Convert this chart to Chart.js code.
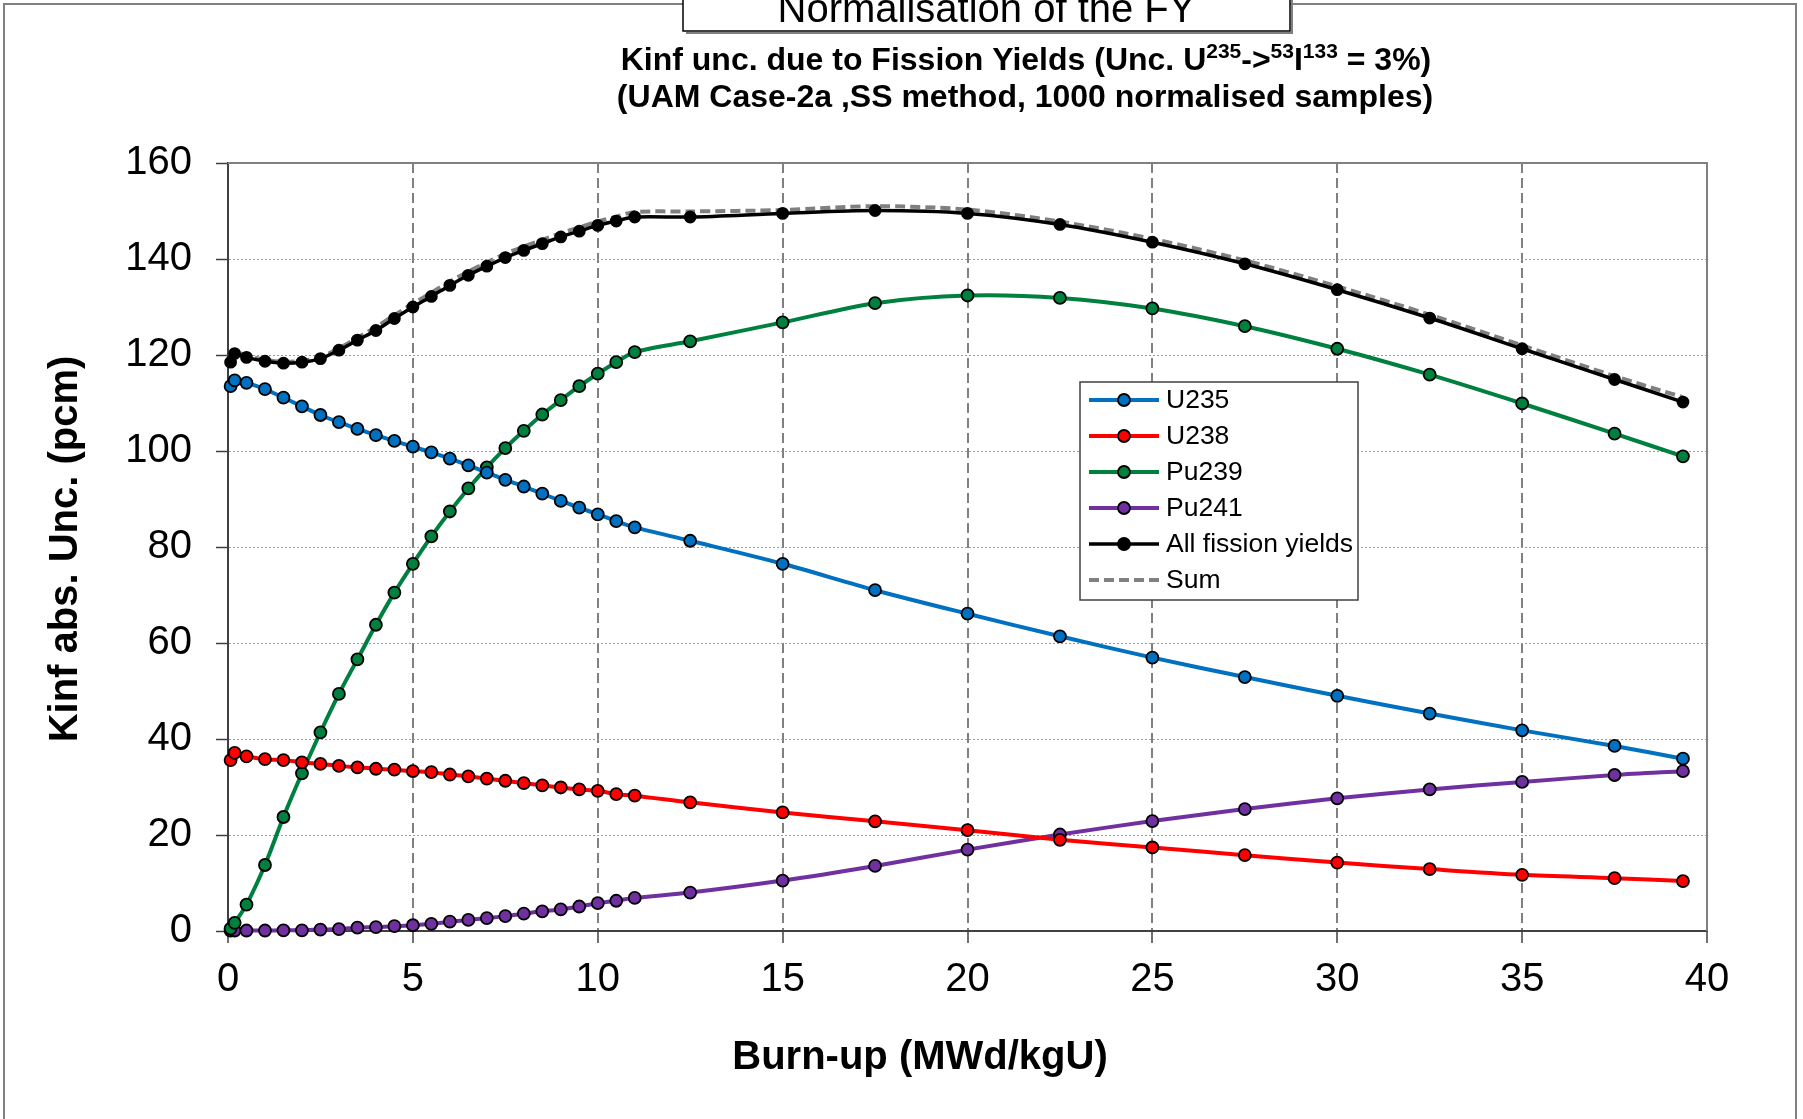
<!DOCTYPE html>
<html>
<head>
<meta charset="utf-8">
<script src="https://cdn.jsdelivr.net/npm/chart.js@4.4.1/dist/chart.umd.min.js"></script>
<style>
html,body{margin:0;padding:0;background:#fff;overflow:hidden}
#wrap{position:relative;width:1803px;height:1119px}
canvas{display:block}
</style>
</head>
<body>
<div id="wrap"><canvas id="c" width="1803" height="1119"></canvas></div>
<script>
// ---------- DATA ----------
const burnup = [0.07, 0.18, 0.5, 1, 1.5, 2, 2.5, 3, 3.5, 4, 4.5, 5, 5.5, 6, 6.5, 7, 7.5, 8, 8.5, 9, 9.5, 10, 10.5, 11,
                12.5, 15, 17.5, 20, 22.5, 25, 27.5, 30, 32.5, 35, 37.5, 39.35];
const u235 = [113.5, 114.7, 114.2, 112.9, 111.1, 109.3, 107.5, 106.0, 104.6, 103.3, 102.1, 100.9, 99.7, 98.4, 97.0, 95.5, 94.0, 92.6, 91.1, 89.6, 88.2, 86.8, 85.4, 84.1,
              81.3, 76.5, 71.0, 66.1, 61.4, 56.95, 52.9, 49.0, 45.3, 41.8, 38.55, 35.9];
const u238 = [35.6, 37.1, 36.4, 35.8, 35.6, 35.15, 34.8, 34.4, 34.1, 33.8, 33.6, 33.3, 33.1, 32.6, 32.2, 31.75, 31.3, 30.8, 30.35, 29.9, 29.5, 29.2, 28.5, 28.2,
              26.8, 24.7, 22.85, 21.0, 19.0, 17.4, 15.8, 14.25, 12.9, 11.7, 11.0, 10.4];
const pu239 = [0.5, 1.7, 5.5, 13.75, 23.75, 32.85, 41.4, 49.4, 56.6, 63.8, 70.5, 76.5, 82.2, 87.4, 92.2, 96.6, 100.6, 104.2, 107.6, 110.6, 113.5, 116.1, 118.5, 120.6,
               122.85, 126.8, 130.8, 132.4, 131.9, 129.7, 126.0, 121.3, 115.9, 109.9, 103.6, 98.9];
const pu241 = [0.1, 0.1, 0.1, 0.1, 0.15, 0.15, 0.3, 0.4, 0.7, 0.8, 1.0, 1.2, 1.5, 1.95, 2.3, 2.7, 3.1, 3.6, 4.1, 4.5, 5.1, 5.8, 6.3, 6.9,
               8.0, 10.5, 13.55, 16.95, 20.1, 22.9, 25.4, 27.65, 29.5, 31.05, 32.5, 33.3];
const allFY = [118.5, 120.3, 119.5, 118.7, 118.3, 118.5, 119.25, 121.0, 123.1, 125.1, 127.6, 130.0, 132.2, 134.5, 136.6, 138.5, 140.3, 141.8, 143.2, 144.6, 145.8, 147.0, 147.9, 148.75,
               148.75, 149.5, 150.1, 149.5, 147.2, 143.5, 139.0, 133.6, 127.7, 121.3, 114.9, 110.2];
const sumFY = [119.0, 120.6, 119.9, 119.0, 118.6, 118.8, 119.6, 121.4, 123.6, 125.8, 128.3, 130.7, 133.0, 135.3, 137.4, 139.3, 141.1, 142.6, 144.0, 145.4, 146.6, 147.8, 148.8, 149.8,
               149.9, 150.2, 151.0, 150.3, 147.8, 144.2, 139.7, 134.3, 128.4, 122.0, 115.6, 111.2];

const seriesNames = ['U235', 'U238', 'Pu239', 'Pu241', 'All fission yields', 'Sum'];
const xTickValues = [0, 5, 10, 15, 20, 25, 30, 35, 40];
const yTickValues = [0, 20, 40, 60, 80, 100, 120, 140, 160];

const boxTitle = 'Normalisation of the FY';
const titleLine1 = [['Kinf unc. due to Fission Yields (Unc. U', false], ['235', true], ['->', false], ['53', true], ['I', false], ['133', true], [' = 3%)', false]];
const titleLine2 = '(UAM Case-2a ,SS method, 1000 normalised samples)';
const xTitle = 'Burn-up (MWd/kgU)';
const yTitle = 'Kinf abs. Unc. (pcm)';

// ---------- CHART ----------
const FONT = "'Liberation Sans', Arial, Helvetica, sans-serif";
Chart.defaults.font.family = FONT;
Chart.defaults.color = '#000';

const pts = arr => burnup.map((x, i) => ({x: x, y: arr[i]}));

function lineDs(label, arr, color, opts) {
  return Object.assign({
    label: label,
    data: pts(arr),
    borderColor: color,
    backgroundColor: color,
    borderWidth: 4,
    pointRadius: 6,
    pointBorderWidth: 1.8,
    pointBorderColor: '#000',
    pointBackgroundColor: color,
    tension: 0.3,
    fill: false,
    clip: 12
  }, opts || {});
}

const datasets = [
  lineDs(seriesNames[0], u235, '#0070C0'),
  lineDs(seriesNames[1], u238, '#FF0000'),
  lineDs(seriesNames[2], pu239, '#00803F'),
  lineDs(seriesNames[3], pu241, '#7030A0'),
  lineDs(seriesNames[4], allFY, '#000000', {borderWidth: 3.5, pointRadius: 5.5}),
  lineDs(seriesNames[5], sumFY, '#808080', {borderWidth: 4, pointRadius: 0, borderDash: [10, 5]})
];

const decor = {
  id: 'decor',
  beforeDraw(chart) {
    const ctx = chart.ctx;
    ctx.save();
    ctx.fillStyle = '#fff';
    ctx.fillRect(0, 0, chart.width, chart.height);
    ctx.strokeStyle = '#808080';
    ctx.lineWidth = 2;
    ctx.strokeRect(4, 4, 1792, 1140);
    ctx.restore();
  },
  afterDraw(chart) {
    const ctx = chart.ctx;
    const a = chart.chartArea;
    ctx.save();
    // plot area top/right border
    ctx.strokeStyle = '#808080';
    ctx.lineWidth = 2;
    ctx.beginPath();
    ctx.moveTo(a.left, a.top); ctx.lineTo(a.right, a.top); ctx.lineTo(a.right, a.bottom);
    ctx.stroke();

    // top box
    ctx.fillStyle = '#fff';
    ctx.fillRect(683, -10, 607, 41);
    ctx.strokeStyle = '#808080';
    ctx.lineWidth = 2;
    ctx.beginPath(); ctx.moveTo(686, 33); ctx.lineTo(1292, 33); ctx.lineTo(1292, -10); ctx.stroke();
    ctx.strokeStyle = '#000';
    ctx.lineWidth = 1.5;
    ctx.strokeRect(683, -10, 607, 41);
    ctx.fillStyle = '#000';
    ctx.font = '40px ' + FONT;
    ctx.textAlign = 'center';
    ctx.textBaseline = 'alphabetic';
    ctx.fillText(boxTitle, 986.5, 22);

    // chart titles
    const mainF = 'bold 32px ' + FONT, supF = 'bold 21px ' + FONT;
    let total = 0;
    titleLine1.forEach(s => { ctx.font = s[1] ? supF : mainF; total += ctx.measureText(s[0]).width; });
    let x = 1026 - total / 2;
    ctx.textAlign = 'left';
    titleLine1.forEach(s => {
      ctx.font = s[1] ? supF : mainF;
      ctx.fillText(s[0], x, s[1] ? 70 - 12 : 70);
      x += ctx.measureText(s[0]).width;
    });
    ctx.font = mainF;
    ctx.textAlign = 'center';
    ctx.fillText(titleLine2, 1025, 107);

    // axis titles
    ctx.font = 'bold 40px ' + FONT;
    ctx.textBaseline = 'middle';
    ctx.fillText(xTitle, 920, 1058);
    ctx.save();
    ctx.translate(65.5, 549);
    ctx.rotate(-Math.PI / 2);
    ctx.fillText(yTitle, 0, 0);
    ctx.restore();

    // legend
    const L = {x: 1080, y: 382, w: 278, h: 218};
    ctx.fillStyle = '#fff';
    ctx.fillRect(L.x, L.y, L.w, L.h);
    ctx.strokeStyle = '#404040';
    ctx.lineWidth = 1.5;
    ctx.strokeRect(L.x, L.y, L.w, L.h);
    chart.data.datasets.forEach((ds, i) => {
      const y = 400 + i * 36;
      ctx.save();
      ctx.strokeStyle = ds.borderColor;
      ctx.lineWidth = ds.borderWidth;
      ctx.setLineDash(ds.borderDash || []);
      ctx.beginPath(); ctx.moveTo(1089, y); ctx.lineTo(1159, y); ctx.stroke();
      ctx.restore();
      if (ds.pointRadius > 0) {
        ctx.beginPath();
        ctx.arc(1124, y, 6, 0, Math.PI * 2);
        ctx.fillStyle = ds.pointBackgroundColor;
        ctx.fill();
        ctx.strokeStyle = '#000';
        ctx.lineWidth = 1.8;
        ctx.stroke();
      }
      ctx.fillStyle = '#000';
      ctx.font = '26.5px ' + FONT;
      ctx.textAlign = 'left';
      ctx.textBaseline = 'middle';
      ctx.fillText(ds.label, 1166, y + 1);
    });
    ctx.restore();
  }
};

new Chart(document.getElementById('c'), {
  type: 'line',
  data: {datasets: datasets},
  options: {
    responsive: false,
    devicePixelRatio: 1,
    animation: false,
    events: [],
    layout: {padding: {left: 0, top: 163, right: 96, bottom: 0}},
    plugins: {legend: {display: false}, tooltip: {enabled: false}, title: {display: false}},
    scales: {
      x: {
        type: 'linear',
        min: 0, max: 40,
        afterBuildTicks: s => { s.ticks = xTickValues.map(v => ({value: v})); },
        afterFit: s => { s.height = 188; },
        ticks: {font: {size: 40}, color: '#000', padding: 13, maxRotation: 0, autoSkip: false},
        grid: {
          color: c => (c.tick && (c.tick.value === 0 || c.tick.value === 40)) ? 'rgba(0,0,0,0)' : '#808080',
          lineWidth: 2,
          tickColor: '#404040',
          tickWidth: 1.5,
          tickLength: 12,
          drawTicks: true
        },
        border: {display: true, color: '#404040', width: 2, dash: [10, 5]}
      },
      y: {
        type: 'linear',
        min: 0, max: 160,
        afterBuildTicks: s => { s.ticks = yTickValues.map(v => ({value: v})); },
        afterFit: s => { s.width = 228; },
        ticks: {font: {size: 40}, color: '#000', padding: 24, autoSkip: false},
        grid: {
          color: c => (c.tick && (c.tick.value === 0 || c.tick.value === 160)) ? 'rgba(0,0,0,0)' : '#9a9a9a',
          lineWidth: 1,
          tickColor: '#404040',
          tickWidth: 1.5,
          tickLength: 12,
          drawTicks: true
        },
        border: {display: true, color: '#404040', width: 2, dash: [2, 2]}
      }
    }
  },
  plugins: [decor]
});
</script>
</body>
</html>
